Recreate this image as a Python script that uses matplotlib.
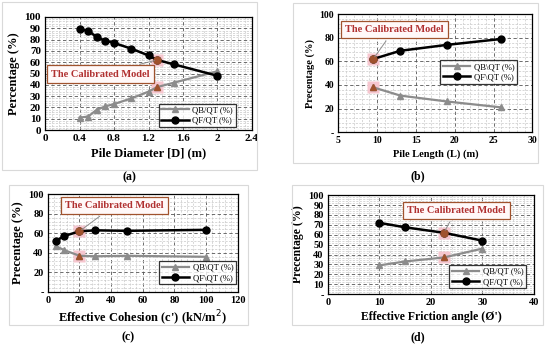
import matplotlib
matplotlib.use('Agg')
import matplotlib.pyplot as plt
from matplotlib.patches import Rectangle
from matplotlib.ticker import MultipleLocator, FuncFormatter

plt.rcParams['font.family'] = ['Liberation Serif', 'DejaVu Serif']

# (a) pile diameter
d_x = [0.4, 0.5, 0.6, 0.7, 0.8, 1.0, 1.2, 1.3, 1.5, 2.0]
d_qf = [89, 88, 82, 79, 77, 72, 66, 62, 58, 48]
d_qb = [11, 12, 18, 21, 23, 28, 34, 38, 42, 52]

# (b) pile length
l_x = [9.5, 13, 19, 26]
l_qf = [62, 69, 74, 79]
l_qb = [38, 31, 26, 21]

# (c) effective cohesion
c_x = [5, 10, 20, 30, 50, 100]
c_qf = [52, 57, 62, 63, 62.5, 63.5]
c_qb = [47, 43, 37, 36.5, 37, 36]

# (d) friction angle
f_x = [10, 15, 22.5, 30]
f_qf = [72, 67.5, 62, 54]
f_qb = [29, 33, 37, 46]

cal = {'a': 1.3, 'b': 9.5, 'c': 20, 'd': 22.5}

GRAY = '#8c8c8c'
CAL = '#a0522d'


def dash_fmt(v, pos):
    return '-' if abs(v) < 1e-9 else '%g' % v


def panel(fig, rect, box, x, qf, qb, xc, xlim, xmaj, xmin, ymaj, ymin,
          xlabel, ylabel, lab_b, lab_f, note_xy, leg_anchor, leg_loc,
          tick_fs, lab_fs, note_fs, zero_dash, letter, letter_xy):
    fig.add_artist(Rectangle(box[:2], box[2], box[3], transform=fig.transFigure,
                             fill=False, edgecolor='#d9d9d9', lw=0.8))
    ax = fig.add_axes(rect)
    ax.set_xlim(*xlim)
    ax.set_ylim(0, 100)
    ax.xaxis.set_major_locator(MultipleLocator(xmaj))
    ax.xaxis.set_minor_locator(MultipleLocator(xmin))
    ax.yaxis.set_major_locator(MultipleLocator(ymaj))
    ax.yaxis.set_minor_locator(MultipleLocator(ymin))
    ax.grid(which='major', ls='--', color='#555555', lw=0.6, dashes=(4, 3))
    ax.grid(which='minor', ls='--', color='#c8c8c8', lw=0.5, dashes=(3, 2))
    ax.set_axisbelow(True)
    for s in ax.spines.values():
        s.set_color('black')
        s.set_linewidth(0.9)
    ax.tick_params(which='both', length=0, labelsize=tick_fs, pad=3)
    if zero_dash:
        ax.yaxis.set_major_formatter(FuncFormatter(dash_fmt))
    else:
        ax.yaxis.set_major_formatter(FuncFormatter(lambda v, p: '%g' % v))
    ax.xaxis.set_major_formatter(FuncFormatter(lambda v, p: '%g' % v))
    for t in ax.get_xticklabels() + ax.get_yticklabels():
        t.set_fontweight('bold')

    ax.plot(x, qb, color=GRAY, lw=1.6, marker='^', ms=5, label=lab_b, zorder=3)
    ax.plot(x, qf, color='black', lw=1.8, marker='o', ms=5, label=lab_f, zorder=4)

    i = x.index(xc)
    for y in (qf[i], qb[i]):
        ax.plot(xc, y, marker='s', ms=9, color='#f6c6cf', mec='none', zorder=2.5)
    ax.plot(xc, qf[i], marker='o', ms=5, color=CAL, zorder=5)
    ax.plot(xc, qb[i], marker='^', ms=5, color=CAL, zorder=5)

    ax.annotate('The Calibrated Model', xy=(xc, qf[i]), xytext=note_xy,
                ha='center', va='center', fontsize=note_fs, fontweight='bold',
                color='#b03030',
                bbox=dict(boxstyle='square,pad=0.4', fc='#fff8f8', ec=CAL, lw=0.9),
                arrowprops=dict(arrowstyle='-', color=GRAY, lw=0.7), zorder=6)

    leg = ax.legend(loc=leg_loc, bbox_to_anchor=leg_anchor, fontsize=6.2,
                    frameon=True, fancybox=False, edgecolor='black',
                    handlelength=3.2, borderpad=0.3, labelspacing=0.25,
                    handletextpad=0.4, borderaxespad=0.2)
    leg.get_frame().set_linewidth(0.9)
    leg.set_zorder(7)

    ax.set_xlabel(xlabel, fontsize=lab_fs, fontweight='bold', labelpad=3)
    ax.set_ylabel(ylabel, fontsize=lab_fs, fontweight='bold', labelpad=3)
    fig.text(letter_xy[0], letter_xy[1], letter, ha='center', va='center',
             fontsize=8.5, fontweight='bold')
    return ax


fig = plt.figure(figsize=(5.5, 3.46), dpi=100)

panel(fig, [0.082, 0.624, 0.376, 0.327], [0.004, 0.51, 0.463, 0.485],
      d_x, d_qf, d_qb, cal['a'], (0, 2.4), 0.4, 0.08, 10, 2,
      'Pile Diameter [D] (m)', 'Percentage (%)', 'QB/QT (%)', 'QF/QT (%)',
      (0.64, 49.5), (0.93, 0.01), 'lower right', 8, 9, 7.5, False, '(a)', (0.236, 0.488))

panel(fig, [0.615, 0.618, 0.353, 0.341], [0.533, 0.53, 0.445, 0.46],
      l_x, l_qf, l_qb, cal['b'], (5, 30), 5, 1, 20, 4,
      'Pile Length (L) (m)', 'Precentage (%)', 'QB\\QT (%)', 'QF\\QT (%)',
      (12.2, 87), (0.93, 0.51), 'center right', 7, 7.5, 7.5, True, '(b)', (0.76, 0.491))

panel(fig, [0.087, 0.156, 0.345, 0.283], [0.016, 0.061, 0.435, 0.405],
      c_x, c_qf, c_qb, cal['c'], (0, 120), 20, 4, 20, 4,
      "Effective Cohesion (c') (kN/m$^2$)", 'Precentage (%)', 'QB\\QT (%)', 'QF\\QT (%)',
      (42, 88.5), (1.0, 0.06), 'lower right', 7.5, 9, 7.5, True, '(c)', (0.233, 0.026))

panel(fig, [0.596, 0.150, 0.375, 0.286], [0.531, 0.061, 0.456, 0.405],
      f_x, f_qf, f_qb, cal['d'], (0, 40), 10, 2, 10, 2,
      "Effective Friction angle (\u00d8')", 'Precentage (%)', 'QB/QT (%)', 'QF/QT (%)',
      (24.9, 84.8), (0.97, 0.04), 'lower right', 7.5, 8.5, 7.5, True, '(d)', (0.76, 0.026))

fig.savefig('out.png', dpi=100)
